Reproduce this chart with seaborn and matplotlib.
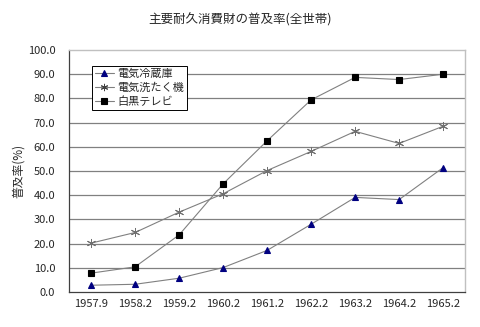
import matplotlib
matplotlib.use("Agg")
import matplotlib.pyplot as plt
import seaborn as sns
import pandas as pd
from matplotlib.lines import Line2D

periods = ["1957.9", "1958.2", "1959.2", "1960.2", "1961.2", "1962.2", "1963.2", "1964.2", "1965.2"]
fridge = [2.8, 3.2, 5.7, 10.1, 17.2, 28.0, 39.1, 38.2, 51.4]
washer = [20.2, 24.6, 33.0, 40.6, 50.2, 58.1, 66.4, 61.4, 68.5]
tv = [7.8, 10.4, 23.6, 44.7, 62.5, 79.4, 88.7, 87.8, 90.0]
series_names = ["電気冷蔵庫", "電気洗たく機", "白黒テレビ"]
yticks = [0, 10, 20, 30, 40, 50, 60, 70, 80, 90, 100]

sns.set_style("white")
plt.rcParams['font.family'] = ['Noto Sans CJK JP', 'DejaVu Sans']

rows = []
for name, vals in zip(series_names, [fridge, washer, tv]):
    for i, (p, v) in enumerate(zip(periods, vals)):
        rows.append({"period": p, "idx": i, "series": name, "value": v})
df = pd.DataFrame(rows)

fig = plt.figure(figsize=(4.8, 3.27), dpi=100)
ax = fig.add_axes([0.144, 0.107, 0.825, 0.740])

styles = {
    "電気冷蔵庫": dict(marker="^", mfc="#000080", mec="#000080", ms=5.0, mew=0.8),
    "電気洗たく機": dict(marker=(6, 2, 0), mfc="none", mec="#707070", ms=6.5, mew=0.7),
    "白黒テレビ": dict(marker="s", mfc="#000000", mec="#000000", ms=5.0, mew=0.8),
}

for y in yticks[1:-1]:
    ax.axhline(y, color="#808080", lw=0.9, zorder=0)

handles = []
for name in series_names:
    sub = df[df.series == name]
    sns.lineplot(data=sub, x="idx", y="value", ax=ax, color="#808080", lw=0.8,
                 legend=False, zorder=2)
    st = styles[name]
    ax.plot(sub["idx"], sub["value"], ls="none", marker=st["marker"], ms=st["ms"],
            mfc=st["mfc"], mec=st["mec"], mew=st["mew"], zorder=3)
    handles.append(Line2D([0], [0], color="#808080", lw=0.8, marker=st["marker"],
                          ms=st["ms"] * 0.8, mfc=st["mfc"], mec=st["mec"] if name != "電気洗たく機" else "#404040",
                          mew=st["mew"]))

ax.set_xlim(-0.5, len(periods) - 0.5)
ax.set_ylim(0, 100)
ax.set_yticks(yticks)
ax.set_yticklabels([f"{v:.1f}" for v in yticks], fontsize=8)
ax.set_xticks(range(len(periods)))
ax.set_xticklabels(periods, fontsize=8)
ax.set_xticks([i - 0.5 for i in range(1, len(periods))], minor=True)
ax.tick_params(axis="x", which="major", length=0, pad=5)
ax.tick_params(axis="x", which="minor", length=4, width=0.8, color="#404040", direction="out")
ax.tick_params(axis="y", length=0, pad=10)
ax.set_xlabel("")
ax.set_ylabel("普及率(%)", fontsize=8.5, labelpad=2)

for side in ["top", "right"]:
    ax.spines[side].set_color("#c0c0c0")
    ax.spines[side].set_linewidth(1.0)
for side in ["left", "bottom"]:
    ax.spines[side].set_color("#404040")
    ax.spines[side].set_linewidth(0.9)

leg = ax.legend(handles, series_names, loc="upper left", bbox_to_anchor=(0.058, 0.934),
                fontsize=8, frameon=True, fancybox=False, edgecolor="#000000",
                framealpha=1, borderpad=0.25, labelspacing=0.3, handlelength=1.7,
                handletextpad=0.3, borderaxespad=0)
leg.get_frame().set_linewidth(0.7)

fig.text(0.5, 0.94, "主要耐久消費財の普及率(全世帯)", ha="center", va="center", fontsize=9)

fig.savefig("out.png", dpi=100)
